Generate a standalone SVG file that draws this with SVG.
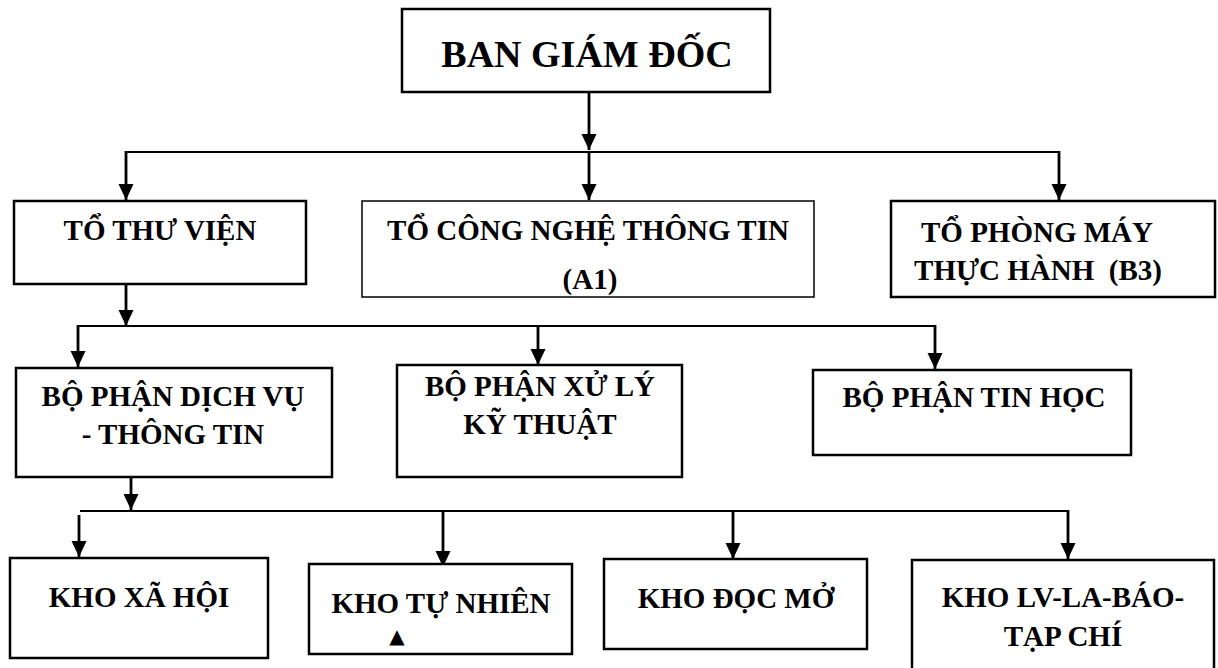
<svg xmlns="http://www.w3.org/2000/svg" width="1218" height="668" viewBox="0 0 1218 668">
<style>
.box{fill:#fff;stroke:#000;stroke-width:2.5}
.thin{stroke-width:1.5}
.t{font-family:"Liberation Serif","Times New Roman",serif;font-weight:bold;font-size:29px;fill:#000;text-anchor:middle;white-space:pre}
.title{font-size:38px}
.ln{fill:none;stroke:#000;stroke-width:2}
.ar{fill:none;stroke:#000;stroke-width:2.8}
</style>
<defs>
<marker id="a" markerUnits="userSpaceOnUse" markerWidth="16" markerHeight="18" viewBox="-8 -17 16 18" refX="0" refY="0" orient="0">
<path d="M-7.5,-16 L7.5,-16 L0,0 Z" fill="#000"/>
</marker>
</defs>
<g id="connectors">
<line class="ln" x1="126" y1="152" x2="1059" y2="152"/>
<line class="ar" x1="589" y1="92" x2="589" y2="150" marker-end="url(#a)"/>
<line class="ar" x1="589" y1="152" x2="589" y2="200" marker-end="url(#a)"/>
<line class="ar" x1="126" y1="151" x2="126" y2="200" marker-end="url(#a)"/>
<line class="ar" x1="1059" y1="151" x2="1059" y2="200" marker-end="url(#a)"/>
<line class="ln" x1="78" y1="326" x2="935" y2="326"/>
<line class="ar" x1="126" y1="284" x2="126" y2="326" marker-end="url(#a)"/>
<line class="ar" x1="78" y1="325" x2="78" y2="367" marker-end="url(#a)"/>
<line class="ar" x1="538" y1="326" x2="538" y2="365" marker-end="url(#a)"/>
<line class="ar" x1="935" y1="325" x2="935" y2="369" marker-end="url(#a)"/>
<line class="ln" x1="80" y1="511" x2="1068" y2="511"/>
<line class="ar" x1="131" y1="477" x2="131" y2="510" marker-end="url(#a)"/>
<line class="ar" x1="79" y1="515" x2="79" y2="557" marker-end="url(#a)"/>
<line class="ar" x1="443" y1="511" x2="443" y2="567" marker-end="url(#a)"/>
<line class="ar" x1="733" y1="511" x2="733" y2="559" marker-end="url(#a)"/>
<line class="ar" x1="1068" y1="510" x2="1068" y2="559" marker-end="url(#a)"/>
</g>
<g id="ban-giam-doc">
<rect class="box" x="402" y="9" width="368" height="83"/>
<text class="t title" x="587" y="67">BAN GIÁM ĐỐC</text>
</g>
<g id="to-thu-vien">
<rect class="box" x="14" y="201" width="292" height="83"/>
<text class="t" x="160" y="240">TỔ THƯ VIỆN</text>
</g>
<g id="to-cntt">
<rect class="box thin" x="362" y="201" width="452" height="96"/>
<text class="t" x="588" y="240">TỔ CÔNG NGHỆ THÔNG TIN</text>
<text class="t" x="590" y="289">(A1)</text>
</g>
<g id="to-phong-may">
<rect class="box" x="891" y="201" width="324" height="96"/>
<text class="t" x="1037" y="242">TỔ PHÒNG MÁY</text>
<text class="t" x="1038" y="280">THỰC HÀNH  (B3)</text>
</g>
<g id="bp-dich-vu">
<rect class="box" x="16" y="368" width="316" height="109"/>
<text class="t" x="173" y="406">BỘ PHẬN DỊCH VỤ</text>
<text class="t" x="173" y="444">- THÔNG TIN</text>
</g>
<g id="bp-xu-ly">
<rect class="box" x="397" y="365" width="285" height="112"/>
<text class="t" x="540" y="396">BỘ PHẬN XỬ LÝ</text>
<text class="t" x="540" y="434">KỸ THUẬT</text>
</g>
<g id="bp-tin-hoc">
<rect class="box" x="813" y="370" width="318" height="85"/>
<text class="t" x="974" y="407">BỘ PHẬN TIN HỌC</text>
</g>
<g id="kho-xa-hoi">
<rect class="box" x="10" y="558" width="258" height="100"/>
<text class="t" x="139" y="607">KHO XÃ HỘI</text>
</g>
<g id="kho-tu-nhien">
<rect class="box" x="309" y="564" width="263" height="90"/>
<text class="t" x="441" y="613">KHO TỰ NHIÊN</text>
<text x="397" y="643" font-family="DejaVu Sans, sans-serif" font-size="20" text-anchor="middle" fill="#000">▲</text>
</g>
<g id="kho-doc-mo">
<rect class="box" x="604" y="559" width="263" height="90"/>
<text class="t" x="736" y="608">KHO ĐỌC MỞ</text>
</g>
<g id="kho-lv">
<rect class="box" x="912" y="560" width="302" height="112"/>
<text class="t" x="1063" y="607">KHO LV-LA-BÁO-</text>
<text class="t" x="1063" y="646">TẠP CHÍ</text>
</g>
</svg>
